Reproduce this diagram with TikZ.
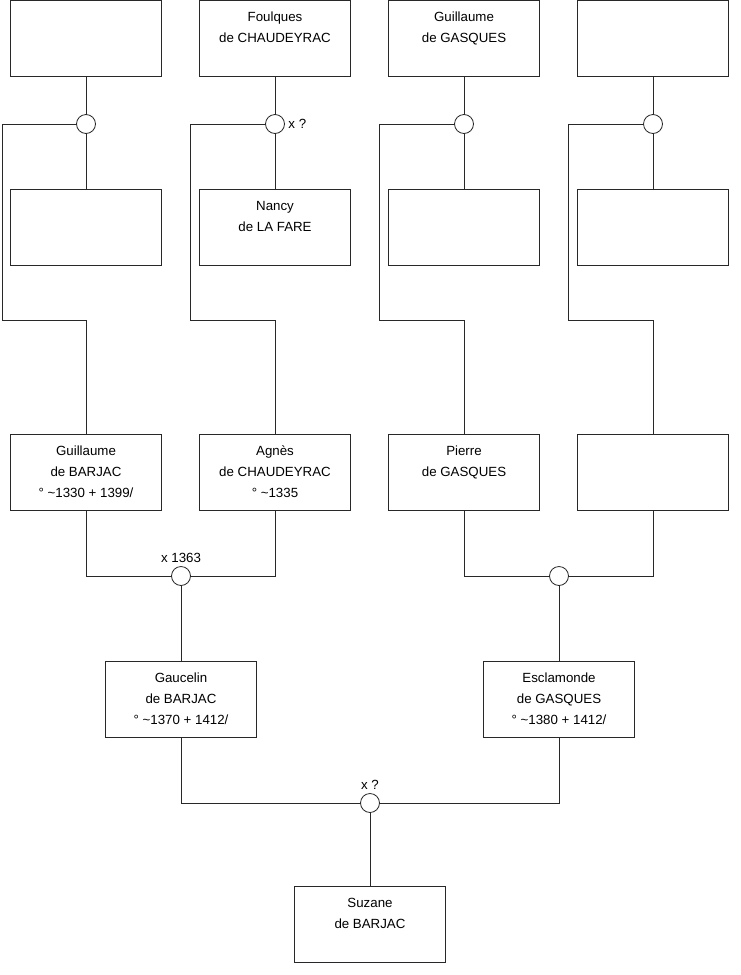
\documentclass[tikz,border=0pt]{standalone}
\usepackage{fontspec}
\setmainfont{Liberation Sans}
\usetikzlibrary{positioning}
\definecolor{linecolor}{RGB}{40,40,40}
\tikzset{
  person/.style={draw=linecolor, fill=white, line width=0.8pt, minimum width=151pt,
    minimum height=76pt, inner sep=0pt, align=center, font=\fontsize{13.3}{21}\selectfont},
  union/.style={circle, draw=linecolor, fill=white, line width=0.8pt, minimum size=19pt, inner sep=0pt},
  tie/.style={draw=linecolor, line width=0.8pt},
  note/.style={font=\fontsize{13.3}{15}\selectfont}
}
\newcommand{\trois}[3]{\strut#1\\\strut#2\\\strut#3}

\begin{document}
\begin{tikzpicture}[x=1pt, y=-1pt]
  \useasboundingbox (0,0) rectangle (740,975);
  % top row
  \node[person] (gp1) at (86,38) {};
  \node[person] (gp2) at (275,38) {\trois{Foulques}{de CHAUDEYRAC}{}};
  \node[person] (gp3) at (464,38) {\trois{Guillaume}{de GASQUES}{}};
  \node[person] (gp4) at (653,38) {};
  % unions of the top row
  \node[union] (u1) at (86,124) {};
  \node[union, label={[note]right:x ?}] (u2) at (275,124) {};
  \node[union] (u3) at (464,124) {};
  \node[union] (u4) at (653,124) {};
  % spouses
  \node[person] (sp1) at (86,227) {};
  \node[person] (sp2) at (275,227) {\trois{Nancy}{de LA FARE}{}};
  \node[person] (sp3) at (464,227) {};
  \node[person] (sp4) at (653,227) {};
  % grandparents
  \node[person] (g1) at (86,472) {\trois{Guillaume}{de BARJAC}{° \textasciitilde1330 + 1399/}};
  \node[person] (g2) at (275,472) {\trois{Agnès}{de CHAUDEYRAC}{° \textasciitilde1335}};
  \node[person] (g3) at (464,472) {\trois{Pierre}{de GASQUES}{}};
  \node[person] (g4) at (653,472) {};
  % bends of the side lines
  \coordinate (bend1) at (2.5,320);
  \coordinate (bend2) at (190.5,320);
  \coordinate (bend3) at (379.5,320);
  \coordinate (bend4) at (568.5,320);
  \foreach \i in {1,...,4} {
    \draw[tie] (gp\i) -- (u\i);
    \draw[tie] (u\i) -- (sp\i);
    \draw[tie] (u\i.west) -| (bend\i) -| (g\i.north);
  }
  % parents
  \node[union, label={[note]above:x 1363}] (m1) at (181,576) {};
  \node[union] (m2) at (559,576) {};
  \draw[tie] (g1.south) |- (m1.west);
  \draw[tie] (g2.south) |- (m1.east);
  \draw[tie] (g3.south) |- (m2.west);
  \draw[tie] (g4.south) |- (m2.east);
  \node[person] (p1) at (181,699) {\trois{Gaucelin}{de BARJAC}{° \textasciitilde1370 + 1412/}};
  \node[person] (p2) at (559,699) {\trois{Esclamonde}{de GASQUES}{° \textasciitilde1380 + 1412/}};
  \draw[tie] (m1) -- (p1);
  \draw[tie] (m2) -- (p2);
  % child
  \node[union, label={[note]above:x ?}] (m3) at (370,803) {};
  \draw[tie] (p1.south) |- (m3.west);
  \draw[tie] (p2.south) |- (m3.east);
  \node[person] (ch) at (370,924) {\trois{Suzane}{de BARJAC}{}};
  \draw[tie] (m3) -- (ch);
\end{tikzpicture}
\end{document}
